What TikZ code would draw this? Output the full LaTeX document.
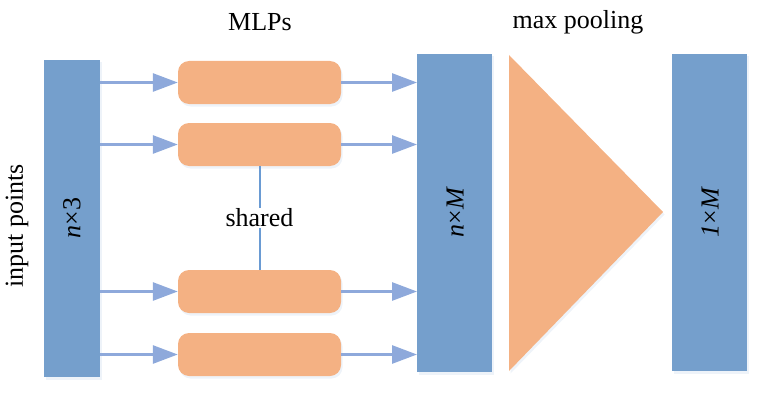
\documentclass[tikz,border=0pt]{standalone}
\usepackage{fontspec}
\setmainfont{Liberation Serif}
\usetikzlibrary{arrows.meta,shadows}
\definecolor{barblue}{HTML}{759FCC}
\definecolor{arrblue}{HTML}{8EA9DB}
\definecolor{linblue}{HTML}{6A9BD3}
\definecolor{mlporange}{HTML}{F4B183}
\tikzset{
  shd/.style={drop shadow={opacity=0.12,shadow xshift=1.5pt,shadow yshift=-2.5pt,fill=barblue}},
  bar/.style={fill=barblue,draw=none,shd},
  mlp/.style={fill=mlporange,draw=none,rounded corners=11pt,shd,minimum width=163pt,minimum height=43pt},
  arr/.style={draw=arrblue,line width=2.8pt,-{Triangle[length=25pt,width=18pt]}},
  lbl/.style={font=\fontsize{26}{30}\selectfont},
}
\begin{document}
\begin{tikzpicture}[x=1pt,y=-1pt]
\useasboundingbox (0,0) rectangle (768,404);
% bars
\path[bar] (44,60) rectangle (100,377);
\path[bar] (417,54) rectangle (492,372);
\path[bar] (672,54) rectangle (747,371);
% triangle
\path[fill=mlporange,shd] (509,55) -- (663,212) -- (509,371) -- cycle;
% MLP boxes
\node[mlp] (m1) at (259.5,82.5) {};
\node[mlp] (m2) at (259.5,144.5) {};
\node[mlp] (m3) at (259.5,291.5) {};
\node[mlp] (m4) at (259.5,354.5) {};
% coordinates for arrow ends
\coordinate (a1) at (100,82.5);
\coordinate (a2) at (100,144.5);
\coordinate (a3) at (100,291.5);
\coordinate (a4) at (100,354.5);
\coordinate (b1) at (417,82.5);
\coordinate (b2) at (417,144.5);
\coordinate (b3) at (417,291.5);
\coordinate (b4) at (417,354.5);
\foreach \i in {1,2,3,4}{
  \draw[arr] (a\i) -- (m\i.west);
  \draw[arr] (m\i.east) -- (b\i);
}
% shared
\node[lbl,fill=white,inner sep=1pt] (sh) at (259.5,218) {shared};
\draw[draw=linblue,line width=2pt] (m2.south) -- (sh.north);
\draw[draw=linblue,line width=2pt] (sh.south) -- (m3.north);
% labels
\node[lbl] (mlps) at (260,22) {MLPs};
\node[lbl] (mp) at (578,22) {max pooling};
\node[lbl,rotate=90] (ip) at (17,226) {input points};
\node[lbl,rotate=90] (n3) at (72,218) {\textit{n}×3};
\node[lbl,rotate=90] (nm) at (455,212) {\textit{n}×\textit{M}};
\node[lbl,rotate=90] (om) at (710,212) {\textit{1}×\textit{M}};
\end{tikzpicture}
\end{document}
